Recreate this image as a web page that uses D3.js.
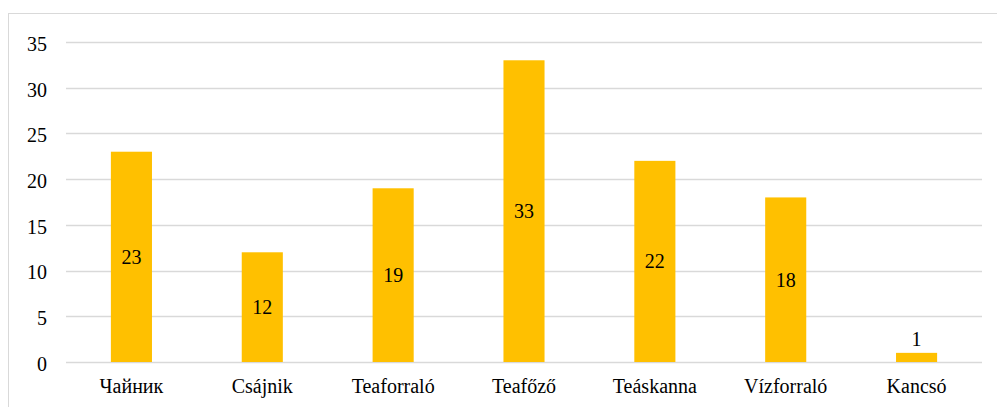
<!DOCTYPE html>
<html>
<head>
<meta charset="utf-8">
<script src="https://cdn.jsdelivr.net/npm/d3@7"></script>
<style>
  body { margin: 0; background: #fff; }
</style>
</head>
<body>
<svg id="chart" width="997" height="407"></svg>
<script>
const categories = ["Чайник", "Csájnik", "Teaforraló", "Teafőző", "Teáskanna", "Vízforraló", "Kancsó"];
const values = [23, 12, 19, 33, 22, 18, 1];
const yTicks = [0, 5, 10, 15, 20, 25, 30, 35];

const width = 997, height = 407;
const margin = { top: 42, right: 15, bottom: 45, left: 66 };
const FONT = "Liberation Serif";

const svg = d3.select("#chart");

// outer frame
svg.append("rect")
  .attr("x", 8.5).attr("y", 13.5)
  .attr("width", 995).attr("height", 400)
  .attr("fill", "none")
  .attr("stroke", "#d9d9d9")
  .attr("stroke-width", 1);

const x = d3.scaleBand()
  .domain(categories)
  .range([margin.left, width - margin.right])
  .paddingInner(0.686)
  .paddingOuter(0.343);

const y = d3.scaleLinear()
  .domain([0, 35])
  .range([height - margin.bottom, margin.top]);

// gridlines
svg.append("g")
  .selectAll("line")
  .data(yTicks)
  .enter().append("line")
  .attr("x1", margin.left).attr("x2", width - margin.right)
  .attr("y1", d => Math.round(y(d)) + 0.5).attr("y2", d => Math.round(y(d)) + 0.5)
  .attr("stroke", "#d9d9d9")
  .attr("stroke-width", 1.3);

// y axis labels
const yAxis = svg.append("g")
  .attr("transform", `translate(${margin.left - 19},0)`)
  .attr("font-family", FONT)
  .call(d3.axisLeft(y).tickValues(yTicks).tickSize(0).tickPadding(0));
yAxis.attr("font-family", FONT).attr("font-size", 20);
yAxis.select(".domain").remove();
yAxis.selectAll("text")
  .attr("dy", "0.42em")
  .style("font-family", FONT)
  .style("font-size", "20px")
  .style("fill", "#000");

// bars
svg.append("g")
  .selectAll("rect")
  .data(values)
  .enter().append("rect")
  .attr("x", (d, i) => x(categories[i]))
  .attr("width", x.bandwidth())
  .attr("y", d => y(d))
  .attr("height", d => y(0) - y(d))
  .attr("fill", "#ffc000");

// data labels: centered in bar, above if bar too short
svg.append("g")
  .selectAll("text")
  .data(values)
  .enter().append("text")
  .attr("x", (d, i) => x(categories[i]) + x.bandwidth() / 2)
  .attr("y", d => (y(0) - y(d) > 30) ? (y(d) + y(0)) / 2 : y(d) - 14)
  .attr("dy", "0.35em")
  .attr("text-anchor", "middle")
  .style("font-family", FONT)
  .style("font-size", "20px")
  .style("fill", "#000")
  .text(d => d);

// x axis labels
const xAxis = svg.append("g")
  .attr("transform", `translate(0,${y(0)})`)
  .call(d3.axisBottom(x).tickSize(0).tickPadding(17));
xAxis.attr("font-family", FONT).attr("font-size", 20);
xAxis.select(".domain").remove();
xAxis.selectAll("text")
  .style("font-family", FONT)
  .style("font-size", "20px")
  .style("fill", "#000");
</script>
</body>
</html>
